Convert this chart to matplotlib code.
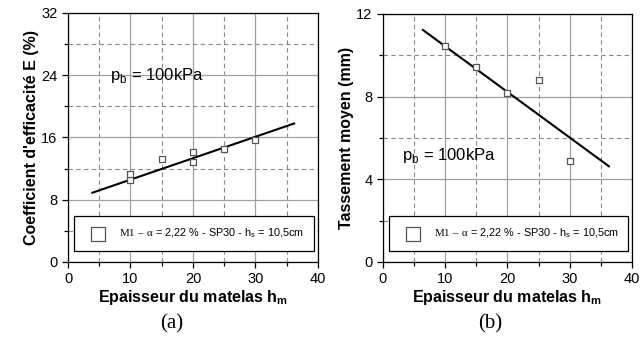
import matplotlib
matplotlib.use("Agg")
import matplotlib.pyplot as plt
from matplotlib.ticker import MultipleLocator

plt.rcParams['font.family'] = ['Liberation Sans', 'DejaVu Sans']
plt.rcParams['mathtext.fontset'] = 'custom'
plt.rcParams['mathtext.rm'] = 'Liberation Serif'
plt.rcParams['mathtext.sf'] = 'Liberation Sans'
plt.rcParams['mathtext.bf'] = 'Liberation Sans:bold'

# data
h_eff = [10, 10, 15, 20, 20, 25, 30]
eff = [10.5, 11.3, 13.25, 14.1, 12.9, 14.5, 15.7]
fit_eff_x = [3.9, 36.2]
fit_eff_y = [8.9, 17.8]

h_tas = [10, 15, 20, 25, 30]
tas = [10.45, 9.42, 8.19, 8.81, 4.89]
fit_tas_x = [6.4, 36.3]
fit_tas_y = [11.23, 4.63]

legend_label = '$\\mathrm{M1\\ –\\ α}$ = 2,22 % - SP30 - h$_\\mathsf{s}$ = 10,5cm'
xlabel = 'Epaisseur du matelas h$_\\mathbf{m}$'
pb_label = 'p$_\\mathsf{b}$ = 100kPa'

fig = plt.figure(figsize=(6.44, 3.38), dpi=100)
ax1 = fig.add_axes([0.1056, 0.2249, 0.388, 0.7367])
ax2 = fig.add_axes([0.5947, 0.2249, 0.3866, 0.7337])


def style(ax, ymax, ymaj, ymin):
    ax.set_xlim(0, 40)
    ax.set_ylim(0, ymax)
    ax.xaxis.set_major_locator(MultipleLocator(10))
    ax.xaxis.set_minor_locator(MultipleLocator(5))
    ax.yaxis.set_major_locator(MultipleLocator(ymaj))
    ax.yaxis.set_minor_locator(MultipleLocator(ymin))
    ax.grid(which='major', color='#a0a0a0', lw=0.9, ls='-')
    ax.grid(which='minor', color='#888888', lw=0.8, ls=(0, (4, 3)))
    ax.set_axisbelow(True)
    ax.tick_params(which='both', direction='out', labelsize=10.5, width=0.9)
    ax.tick_params(which='major', length=4)
    ax.tick_params(which='minor', length=3)
    for s in ax.spines.values():
        s.set_linewidth(0.9)
    ax.set_xlabel(xlabel, fontsize=11.5, fontweight='bold', labelpad=1)


style(ax1, 32, 8, 4)
ax1.plot(fit_eff_x, fit_eff_y, color='black', lw=1.5)
ax1.scatter(h_eff, eff, marker='s', s=24, facecolors='white',
            edgecolors='#555555', linewidths=0.9, zorder=3, label=legend_label)
ax1.set_ylabel("Coefficient d'efficacité E (%)", fontsize=11.5,
               fontweight='bold', labelpad=2)
ax1.text(6.7, 24, pb_label, fontsize=12, va='center')

style(ax2, 12, 4, 2)
ax2.plot(fit_tas_x, fit_tas_y, color='black', lw=1.5)
ax2.scatter(h_tas, tas, marker='s', s=20, facecolors='white',
            edgecolors='#555555', linewidths=0.9, zorder=3, label=legend_label)
ax2.set_ylabel('Tassement moyen (mm)', fontsize=11.5, fontweight='bold',
               labelpad=2)
ax2.text(3.1, 5.16, pb_label, fontsize=12, va='center')

for ax in (ax1, ax2):
    leg = ax.legend(loc='lower left', bbox_to_anchor=(0.024, 0.044, 0.962, 0.2),
                    mode='expand', fontsize=7.8, frameon=True, fancybox=False,
                    markerscale=2.1, handletextpad=0.75,
                    borderpad=1.0, borderaxespad=0, handlelength=2.4)
    leg.get_frame().set_edgecolor('black')
    leg.get_frame().set_linewidth(0.9)
    leg.get_frame().set_alpha(1)

fig.text(0.266, 0.042, '(a)', fontsize=15, family='Liberation Serif',
         ha='center', va='center')
fig.text(0.761, 0.042, '(b)', fontsize=15, family='Liberation Serif',
         ha='center', va='center')

fig.savefig('out.png', dpi=100)
